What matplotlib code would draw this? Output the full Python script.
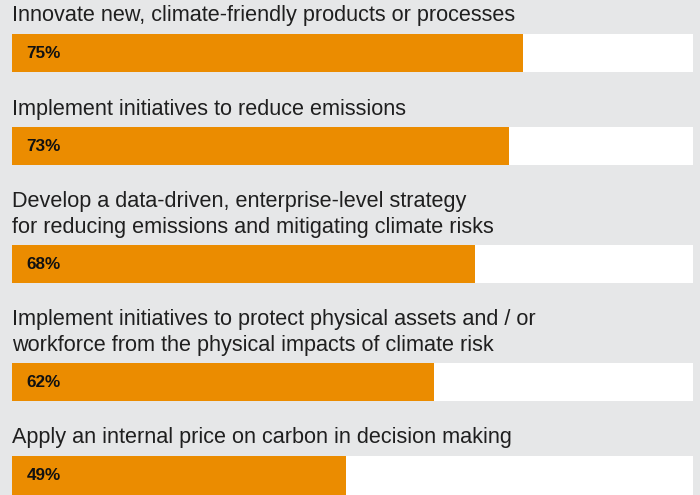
import numpy as np
import matplotlib
matplotlib.use("Agg")
import matplotlib.pyplot as plt

# data
labels = [
    "Innovate new, climate-friendly products or processes",
    "Implement initiatives to reduce emissions",
    "Develop a data-driven, enterprise-level strategy\nfor reducing emissions and mitigating climate risks",
    "Implement initiatives to protect physical assets and / or\nworkforce from the physical impacts of climate risk",
    "Apply an internal price on carbon in decision making",
]
values = [75, 73, 68, 62, 49]
value_labels = ["75%", "73%", "68%", "62%", "49%"]

BG = "#e6e7e8"
ORANGE = "#eb8c00"
TEXT = "#1f1f1f"

W, H = 700, 495
fig = plt.figure(figsize=(W / 100, H / 100), dpi=100, facecolor=BG)
# axes spans the white track horizontally, full height; y in pixel rows
left, right = 12, 693
ax = fig.add_axes([left / W, 0, (right - left) / W, 1])
ax.set_facecolor(BG)
ax.set_xlim(0, 100)
ax.set_ylim(H, 0)
ax.axis("off")

bar_h = 38
line_h = 25
# layout: bar tops from number of label lines
tops = []
for lab in labels:
    n = lab.count("\n") + 1
    if tops:
        tops.append(tops[-1] + bar_h + 55 + line_h * (n - 1))
    else:
        tops.append(34)
tops = np.array(tops)
centers = tops + bar_h / 2

# last bar runs off the bottom edge, so pad its height a little
heights = [bar_h] * (len(values) - 1) + [bar_h + 2]
centers_draw = tops + np.array(heights) / 2

ax.barh(centers_draw, [100] * len(values), height=heights, color="white", linewidth=0)
ax.barh(centers_draw, values, height=heights, color=ORANGE, linewidth=0)

for lab, top, c, vl in zip(labels, tops, centers, value_labels):
    lines = lab.split("\n")
    for k, line in enumerate(lines):
        ax.text(0, top - 12.5 - line_h * (len(lines) - 1 - k), line,
                ha="left", va="baseline", fontsize=15.6,
                family="Liberation Sans", color=TEXT)
    ax.text(2.15, c + 0.5, vl, ha="left", va="center", fontsize=12.3,
            fontweight="bold", family="Liberation Sans", color="#111111")

fig.savefig("out.png", dpi=100, facecolor=BG)
